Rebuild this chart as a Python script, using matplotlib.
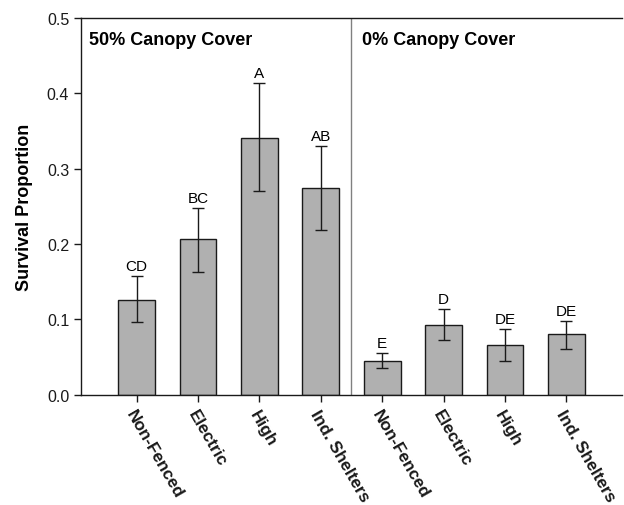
import matplotlib
matplotlib.use("Agg")
import matplotlib.pyplot as plt
import numpy as np

plt.rcParams['font.family'] = ['Liberation Sans', 'DejaVu Sans']

categories = ["Non-Fenced", "Electric", "High", "Ind. Shelters",
              "Non-Fenced", "Electric", "High", "Ind. Shelters"]
values = [0.126, 0.206, 0.341, 0.274, 0.045, 0.093, 0.066, 0.080]
err_low = [0.030, 0.043, 0.071, 0.056, 0.009, 0.021, 0.021, 0.019]
err_high = [0.031, 0.042, 0.072, 0.056, 0.010, 0.020, 0.021, 0.018]
letters = ["CD", "BC", "A", "AB", "E", "D", "DE", "DE"]
panel_titles = ["50% Canopy Cover", "0% Canopy Cover"]

fig = plt.figure(figsize=(6.24, 5.06), dpi=100)
ax = fig.add_axes([0.1298, 0.218, 0.867, 0.745])

x = np.arange(len(values))
ax.bar(x, values, width=0.6, color='#b0b0b0', edgecolor='#1a1a1a', linewidth=1.0, zorder=2)
ax.errorbar(x, values, yerr=[err_low, err_high], fmt='none', ecolor='#1a1a1a',
            elinewidth=1.0, capsize=4.5, capthick=1.0, zorder=3)

for xi, v, eh, lab in zip(x, values, err_high, letters):
    ax.text(xi, v + eh + 0.004, lab, ha='center', va='bottom', fontsize=11)

ax.axvline(3.5, color='#808080', linewidth=1.0, zorder=1)

ax.set_xlim(-0.906, 7.906)
ax.set_ylim(0, 0.5)
ax.set_yticks([0.0, 0.1, 0.2, 0.3, 0.4, 0.5])
ax.set_yticklabels([f"{t:.1f}" for t in [0.0, 0.1, 0.2, 0.3, 0.4, 0.5]], fontsize=11.5)
ax.set_xticks(x)
ax.set_xticklabels(categories, rotation=-60, ha='left', va='top',
                   rotation_mode='anchor', fontsize=12.3, fontweight='bold')
ax.tick_params(axis='both', direction='out', length=5, width=1, colors='#1a1a1a')
ax.tick_params(axis='x', pad=4)
ax.spines['right'].set_visible(False)
for s in ['left', 'top', 'bottom']:
    ax.spines[s].set_linewidth(1.0)
    ax.spines[s].set_color('#1a1a1a')

ax.set_ylabel("Survival Proportion", fontsize=13, fontweight='bold', labelpad=10)

ax.text(0.015, 0.965, panel_titles[0], transform=ax.transAxes, ha='left', va='top',
        fontsize=13, fontweight='bold')
ax.text(0.519, 0.965, panel_titles[1], transform=ax.transAxes, ha='left', va='top',
        fontsize=13, fontweight='bold')

fig.savefig("out.png", dpi=100)
